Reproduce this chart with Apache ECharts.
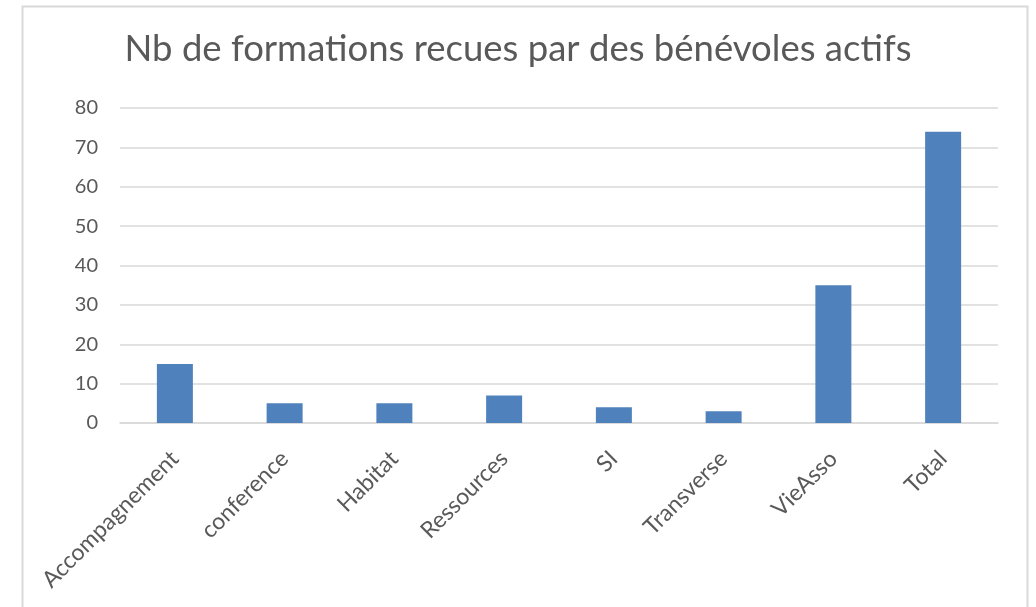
<!DOCTYPE html>
<html>
<head>
<meta charset="utf-8">
<script src="https://cdn.jsdelivr.net/npm/echarts@6/dist/echarts.min.js"></script>
<style>
html,body{margin:0;padding:0;background:#fff;}
#c{width:1036px;height:607px;}
</style>
</head>
<body>
<div id="c"></div>
<script>
const titleText = "Nb de formations recues par des bénévoles actifs";
const categories = ["Accompagnement","conference","Habitat","Ressources","SI","Transverse","VieAsso","Total"];
const values = [15, 5, 5, 7, 4, 3, 35, 74];
const yTicks = {min: 0, max: 80, interval: 10};

const chart = echarts.init(document.getElementById('c'), null, {renderer: 'canvas'});
chart.setOption({
  backgroundColor: '#ffffff',
  animation: false,
  graphic: [{
    type: 'rect',
    left: 20, top: 4,
    shape: {width: 1005, height: 640},
    style: {fill: 'none', stroke: '#d9d9d9', lineWidth: 2},
    silent: true
  }],
  title: {
    text: titleText,
    left: 'center',
    top: 26,
    textStyle: {fontFamily: 'Lato', fontWeight: 400, fontSize: 36.5, color: '#595959'}
  },
  grid: {left: 120, right: 38, top: 108, bottom: 184, containLabel: false},
  xAxis: {
    type: 'category',
    data: categories,
    axisLine: {show: true, lineStyle: {color: '#d9d9d9', width: 1.5}},
    axisTick: {show: false},
    axisLabel: {rotate: 45, interval: 0, margin: 32, fontFamily: 'Lato', fontSize: 23, color: '#595959'}
  },
  yAxis: {
    type: 'value',
    min: yTicks.min, max: yTicks.max, interval: yTicks.interval,
    axisLine: {show: false},
    axisTick: {show: false},
    splitLine: {lineStyle: {color: '#d9d9d9', width: 1.5}},
    axisLabel: {margin: 22, fontFamily: 'Lato', fontSize: 20, color: '#595959'}
  },
  series: [{
    type: 'bar',
    data: values,
    barWidth: 36,
    itemStyle: {color: '#4f81bd'}
  }]
});
</script>
</body>
</html>
